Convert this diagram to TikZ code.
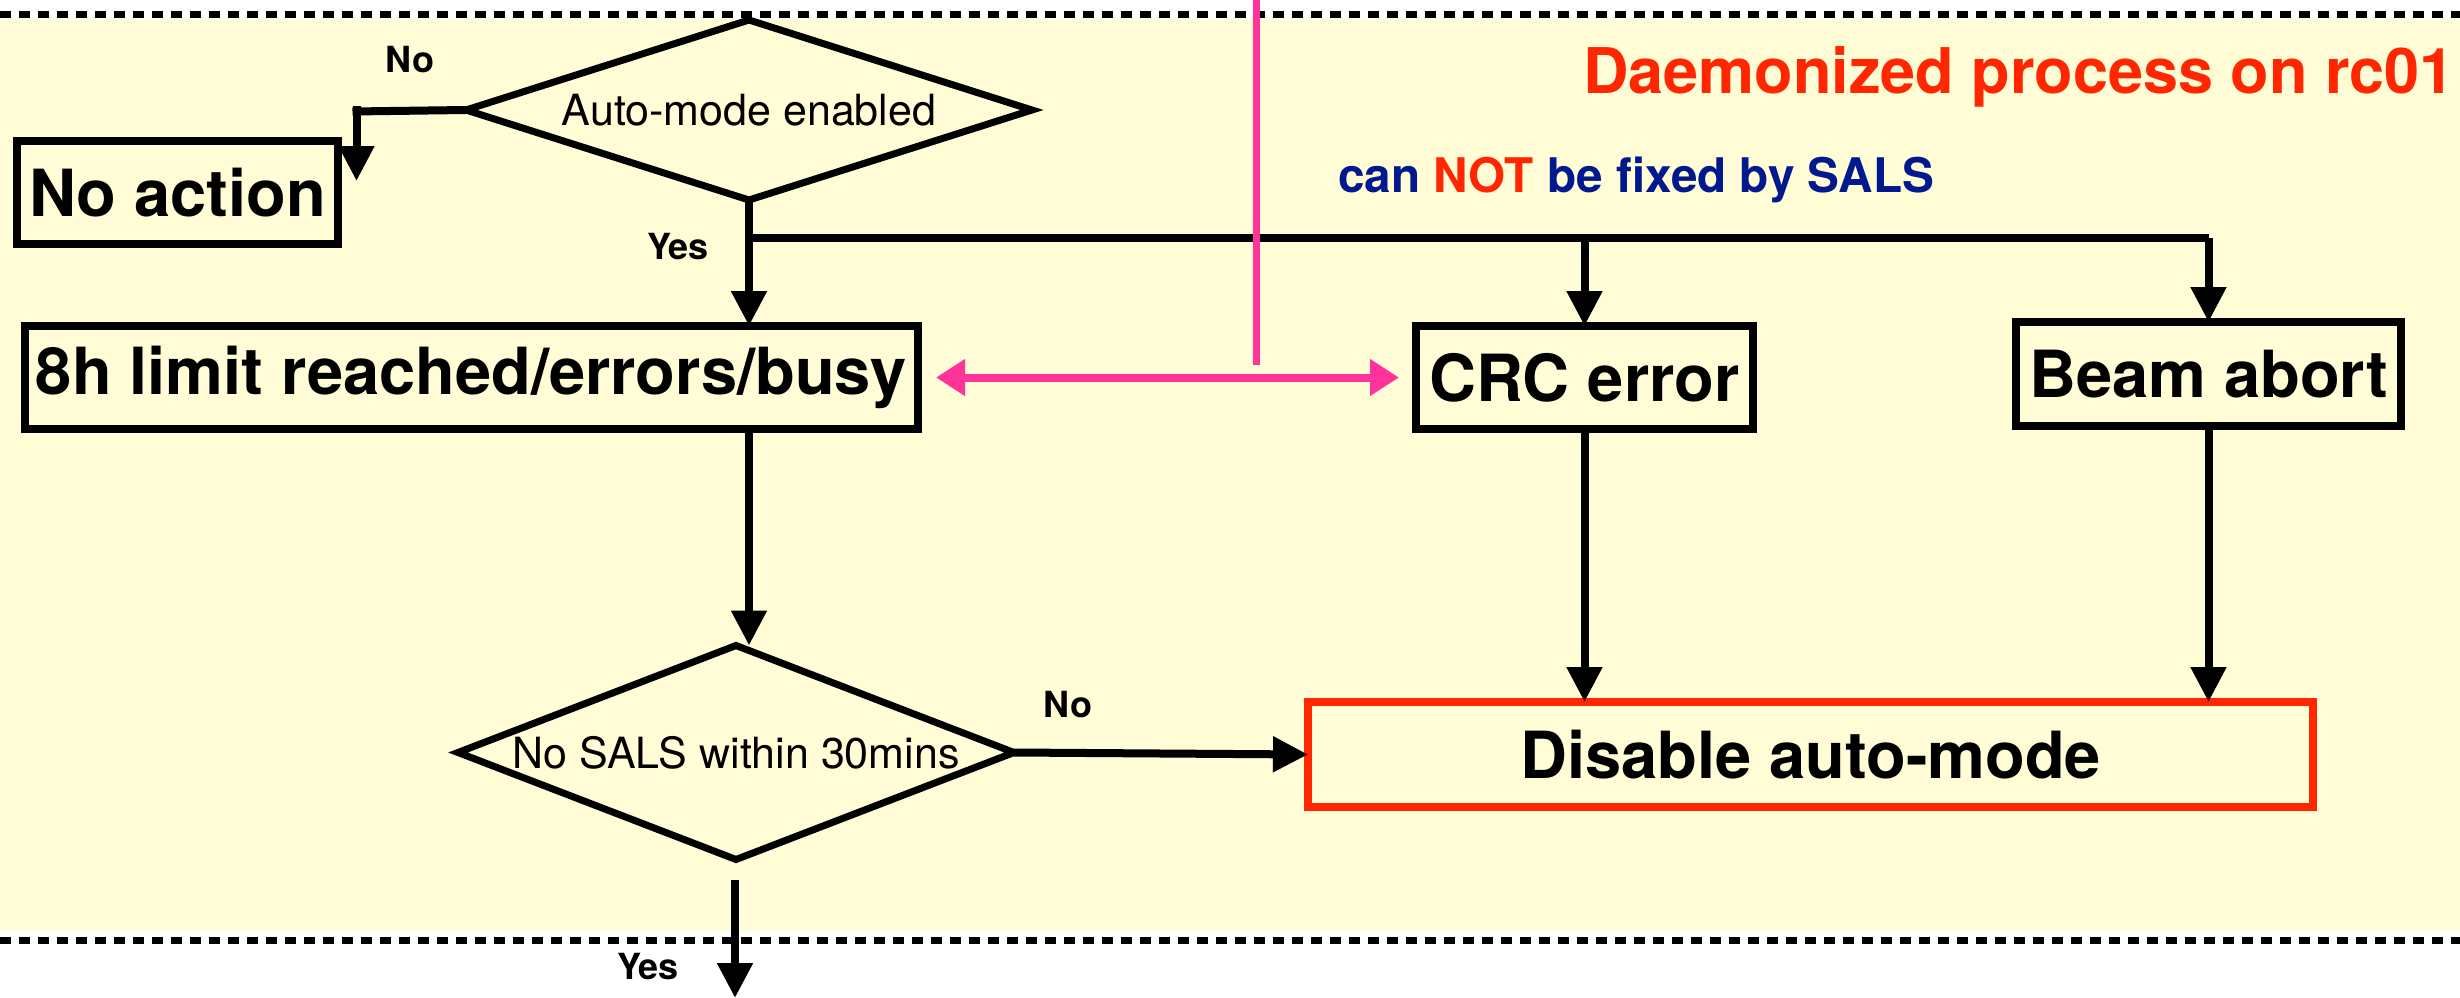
\documentclass[tikz,border=0pt]{standalone}
\usepackage{fontspec}
\setmainfont{TeX Gyre Heros}
\usetikzlibrary{shapes.geometric,arrows.meta}
\definecolor{bgyellow}{RGB}{255,252,214}
\definecolor{dred}{RGB}{255,38,0}
\definecolor{dblue}{RGB}{0,25,143}
\definecolor{dpink}{RGB}{255,51,153}
\tikzset{
  box/.style={draw=black, line width=8pt, inner sep=0pt, outer sep=0pt,
    font=\fontsize{65}{78}\selectfont\bfseries},
  decision/.style={diamond, draw=black, line width=7pt, inner sep=0pt, outer sep=0pt,
    font=\fontsize{43}{52}\selectfont},
  lbl/.style={inner sep=0pt, font=\fontsize{36}{43}\selectfont\bfseries},
  conn/.style={draw=black, line width=8pt},
  arr/.style={conn, -{Triangle[length=35pt,width=34pt]}},
  pinkline/.style={draw=dpink, line width=7pt},
  pinkarr/.style={draw=dpink, line width=8pt, {Triangle[length=29pt,width=35pt]}-{Triangle[length=29pt,width=35pt]}},
  sep/.style={draw=black, line width=7pt, dash pattern=on 11pt off 8pt},
}
\begin{document}
\begin{tikzpicture}[x=1pt,y=-1pt]
\useasboundingbox (0,0) rectangle (2460,998);
% background band
\fill[bgyellow] (0,19) rectangle (2460,931);
\draw[sep] (0,15) -- (2460,15);
\draw[sep] (0,940) -- (2460,940);

% nodes
\node[decision, aspect=3.144, minimum width=566pt, minimum height=180pt] (auto) at (749,110) {Auto-mode enabled};
\node[box, minimum width=321pt, minimum height=103pt] (noact) at (177.5,192.5) {No action};
\node[box, minimum width=893pt, minimum height=103pt] (h8) at (471.5,377.5) {8h limit reached/errors/busy};
\node[box, minimum width=337pt, minimum height=103pt] (crc) at (1584.5,377.5) {CRC error};
\node[box, minimum width=385pt, minimum height=104pt] (beam) at (2208.5,374) {Beam abort};
\node[box, draw=dred, minimum width=1005pt, minimum height=105pt] (dis) at (1810.5,754.5) {Disable auto-mode};
\node[decision, aspect=2.6, minimum width=556pt, minimum height=214pt] (sals) at (736,752.5) {No SALS within 30mins};

\node[anchor=base east, inner sep=0pt, text=dred, font=\fontsize{63}{76}\selectfont\bfseries] (title) at (2455,93) {Daemonized process on rc01};
\node[anchor=base west, inner sep=0pt, text=dblue, font=\fontsize{47.7}{57}\selectfont\bfseries] (sub) at (1338,192) {can \textcolor{dred}{NOT} be fixed by SALS};

\node[lbl] (lno1) at (410,60) {No};
\node[lbl] (lyes1) at (678,247) {Yes};
\node[lbl] (lno2) at (1068,705) {No};
\node[lbl] (lyes2) at (648,967) {Yes};

% coordinates
\coordinate (nobend) at (352.5,111.5);
\coordinate (nobendtop) at (356.5,106);
\coordinate (noend) at (356.5,181);
\coordinate (split) at (750,238);
\coordinate (yesstart) at (735,880);
\coordinate (yesend) at (735,998);
\coordinate (pinktop) at (1256,0);
\coordinate (pinkbot) at (1256,365);

% connectors
\draw[conn] (auto.west) -- (nobend);
\draw[arr] (nobendtop) -- (noend);
\draw[arr] (auto.south) -- (auto.south |- h8.north);
\draw[conn] (split) -- (split -| beam.north);
\draw[arr] (split -| crc.north) -- (crc.north);
\draw[arr] (split -| beam.north) -- (beam.north);
\draw[arr] (auto.south |- h8.south) -- (auto.south |- sals.north);
\draw[arr] (crc.south) -- (crc.south |- dis.north);
\draw[arr] (beam.south) -- (beam.south |- dis.north);
\draw[arr] (sals.east) -- (dis.west);
\draw[arr] (yesstart) -- (yesend);

\draw[pinkline] (pinktop) -- (pinkbot);
\draw[pinkarr, shorten <=18pt, shorten >=17pt] (h8.east) -- (crc.west);
\end{tikzpicture}
\end{document}
